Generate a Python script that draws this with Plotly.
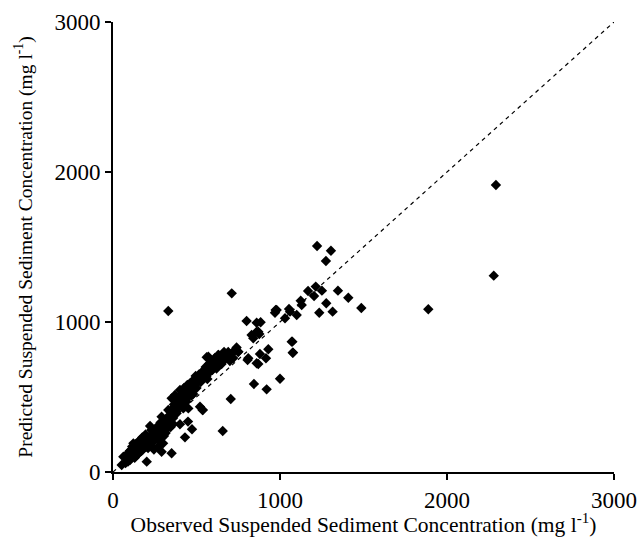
import plotly.graph_objects as go

# Observed vs predicted suspended sediment concentration (mg l-1)
observed = [
    52, 62, 75, 85, 95, 102, 110, 120, 122, 132, 140, 145, 152, 160, 162, 170, 175, 181, 190, 195,
    202, 202, 210, 215, 222, 222, 230, 235, 241, 245, 250, 255, 262, 265, 271, 275, 280, 285, 291, 291,
    295, 300, 305, 310, 315, 320, 325, 331, 335, 340, 345, 351, 351, 355, 360, 365, 371, 375, 380, 381,
    390, 395, 401, 401, 405, 410, 415, 421, 425, 430, 431, 440, 445, 449, 450, 451, 455, 461, 465, 470,
    473, 475, 480, 485, 490, 495, 500, 505, 511, 515, 521, 525, 530, 537, 541, 545, 550, 555, 561, 565,
    570, 575, 581, 585, 590, 595, 600, 610, 615, 620, 631, 631, 640, 650, 657, 660, 665, 670, 681, 690,
    700, 705, 711, 720, 731, 740, 750, 800, 806, 810, 830, 840, 844, 860, 860, 860, 870, 870, 876, 880,
    884, 916, 920, 930, 970, 974, 980, 1000, 1030, 1054, 1060, 1070, 1074, 1076, 1078, 1100, 1124, 1130,
    1168, 1204, 1214, 1222, 1235, 1251, 1275, 1277, 1305, 1315, 1347, 1409, 1487, 1888, 2280, 2293,
    331, 571, 631, 750, 537, 80, 130, 185, 240, 310, 90, 115, 150, 178, 205, 260, 275, 330, 360, 395,
    100, 140, 170, 200, 230, 255, 285, 315, 345, 415, 440, 470, 500, 530, 560, 590, 620, 660, 690, 720,
]
predicted = [
    47, 102, 60, 120, 90, 80, 150, 130, 191, 135, 110, 175, 158, 200, 213, 140, 230, 169, 190, 250,
    225, 69, 160, 205, 180, 307, 240, 215, 202, 150, 270, 230, 235, 300, 169, 210, 250, 330, 135, 369,
    280, 191, 240, 320, 260, 350, 290, 413, 330, 380, 300, 125, 491, 420, 360, 450, 513, 400, 470, 391,
    430, 500, 547, 318, 460, 520, 490, 424, 560, 510, 231, 540, 580, 336, 500, 424, 560, 591, 540, 600,
    285, 570, 520, 610, 590, 640, 560, 620, 613, 650, 435, 600, 660, 413, 635, 680, 650, 700, 765, 620,
    690, 720, 669, 700, 740, 680, 720, 760, 700, 740, 713, 780, 750, 720, 273, 790, 800, 760, 769, 800,
    740, 487, 1191, 800, 813, 830, 802, 1007, 747, 758, 913, 891, 587, 995, 935, 725, 935, 720, 920, 787,
    998, 758, 551, 818, 1062, 1080, 1080, 622, 1025, 1087, 1069, 869, 869, 795, 796, 1047, 1142, 1113,
    1207, 1173, 1236, 1507, 1062, 1209, 1407, 1125, 1475, 1069, 1209, 1162, 1093, 1085, 1309, 1913,
    1073, 769, 780, 802, 413, 110, 95, 210, 260, 280, 70, 170, 120, 150, 190, 280, 240, 360, 320, 440,
    140, 190, 215, 170, 280, 290, 245, 350, 400, 450, 470, 510, 590, 630, 640, 700, 690, 740, 770, 760,
]
line_x = [0, 3000]
line_y = [0, 3000]
tick_vals = [0, 1000, 2000, 3000]

font_family = "Liberation Serif, Times New Roman, serif"

fig = go.Figure()
fig.add_trace(go.Scatter(
    x=line_x, y=line_y, mode="lines",
    line=dict(color="black", width=1.2, dash="4px,4px"),
    showlegend=False, hoverinfo="skip",
))
fig.add_trace(go.Scatter(
    x=observed, y=predicted, mode="markers",
    marker=dict(symbol="diamond", size=8, color="black", line=dict(width=0)),
    showlegend=False,
))

axis_common = dict(
    range=[0, 3000], tickvals=tick_vals, ticks="outside", ticklen=6, tickwidth=1.5,
    tickcolor="black", showline=True, linecolor="black", linewidth=2,
    showgrid=False, zeroline=False, automargin=False,
    tickfont=dict(family=font_family, size=23, color="black"),
)

fig.update_layout(
    width=637, height=537,
    margin=dict(l=113, r=23, t=22, b=65),
    paper_bgcolor="white", plot_bgcolor="white",
    font=dict(family=font_family, color="black"),
    xaxis=dict(**axis_common,
               title=dict(text="Observed Suspended Sediment Concentration (mg l<sup>-1</sup>)",
                          font=dict(family=font_family, size=21.5, color="black"), standoff=1)),
    yaxis=dict(**axis_common,
               title=dict(text="Predicted Suspended Sediment Concentration (mg l<sup>-1</sup>)",
                          font=dict(family=font_family, size=19.5, color="black"), standoff=17)),
)

# remove the default page margin so the figure fills the window exactly
fig.write_html("out.html", config={"displayModeBar": False},
               post_script="document.body.style.margin='0px';")
